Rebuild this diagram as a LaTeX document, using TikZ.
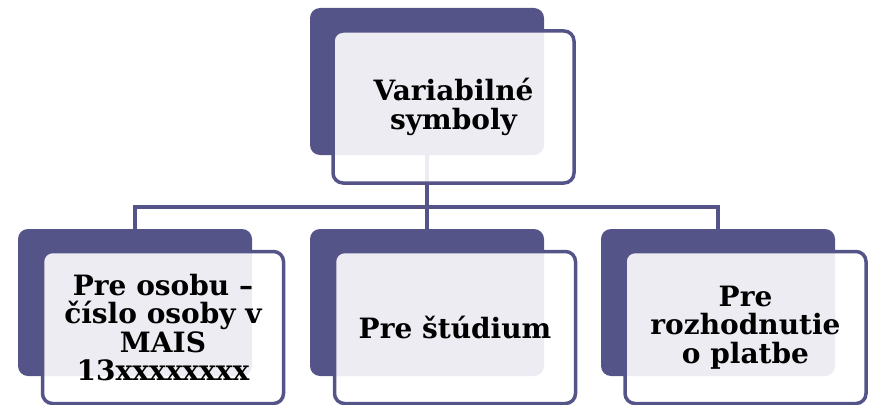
\documentclass[tikz,border=0pt]{standalone}
\usepackage{fontspec}
\setmainfont{DejaVu Serif}
\definecolor{dk}{HTML}{545489}
\tikzset{
  back/.style={draw=none,fill=dk,rounded corners=10pt,minimum width=234pt,minimum height=147pt,inner sep=0pt},
  front/.style={draw=dk,line width=3.5pt,fill=white,fill opacity=0.89,text opacity=1,rounded corners=10pt,minimum width=241pt,minimum height=152pt,inner sep=0pt,align=center,font=\fontsize{28}{28.5}\selectfont\bfseries},
  conn/.style={draw=dk,line width=3.5pt}
}
\begin{document}
\begin{tikzpicture}[x=1pt,y=-1pt]
\useasboundingbox (0,0) rectangle (869,404);
\node[back] (tb) at (427,81.5) {};
\node[back] (lb) at (135,302.5) {};
\node[back] (mb) at (427,302.5) {};
\node[back] (rb) at (718,302.5) {};
\draw[conn] (tb.south) -- ++(0,52) -| (lb.north);
\draw[conn] (tb.south) -- ++(0,52) -| (rb.north);
\draw[conn] (tb.south) -- (mb.north);
\node[front] (tf) at (453.5,107) {Variabilné\\symboly};
\node[front] (lf) at (163,327.5) {Pre osobu –\\číslo osoby v\\MAIS\\13xxxxxxxx};
\node[front] (mf) at (455,327.5) {Pre štúdium};
\node[front] (rf) at (745.5,327.5) {Pre\\rozhodnutie\\o platbe};
\end{tikzpicture}
\end{document}
